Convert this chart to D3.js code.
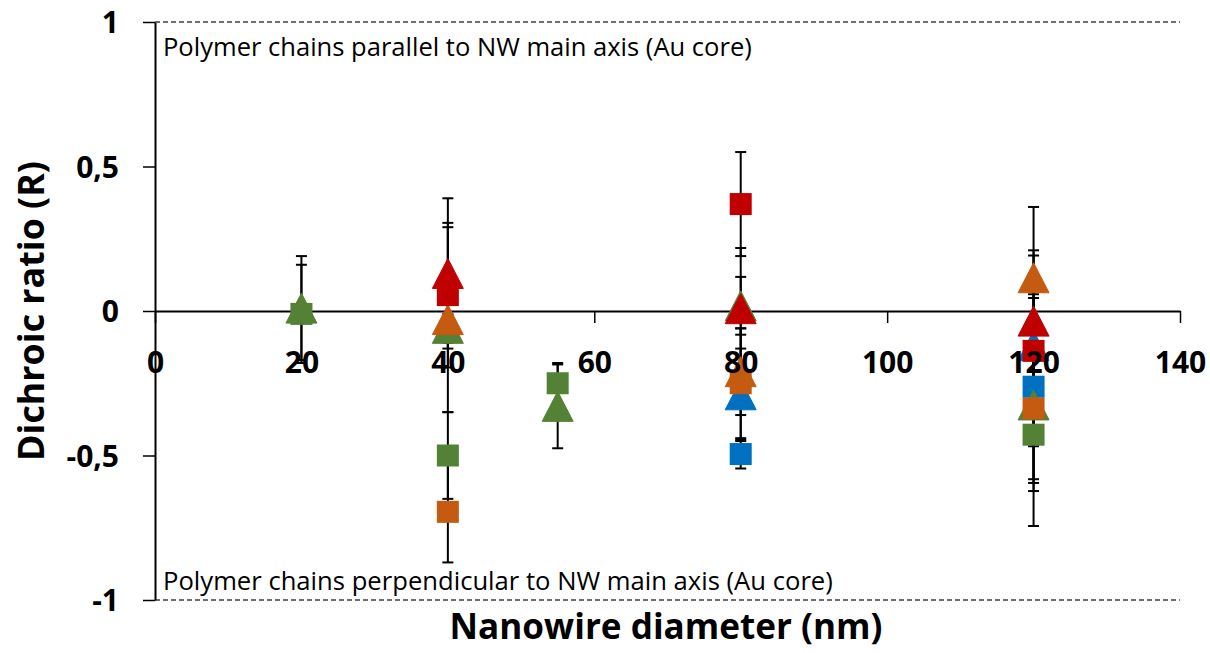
<!DOCTYPE html>
<html><head><meta charset="utf-8">
<script src="https://cdn.jsdelivr.net/npm/d3@7"></script>
<style>body{margin:0;background:#fff}svg{display:block}</style>
</head><body>
<svg id="c" width="1210" height="653"></svg>
<script>
// ---- data ----
const xTicks = [0, 20, 40, 60, 80, 100, 120, 140];
const yTicks = [1, 0.5, 0, -0.5, -1];
const yTickLabels = ["1", "0,5", "0", "-0,5", "-1"];
const xTitle = "Nanowire diameter (nm)";
const yTitle = "Dichroic ratio (R)";
const noteTop = "Polymer chains parallel to NW main axis (Au core)";
const noteBottom = "Polymer chains perpendicular to NW main axis (Au core)";

const blueSquareX = [80, 120],          blueSquareY = [-0.495, -0.262],        blueSquareErr = [0.05, 0.32];
const blueTriX = [80, 120],             blueTriY = [-0.29, -0.12],             blueTriErr = [0.16, 0.165];
const greenSquareX = [20, 40, 55, 120], greenSquareY = [-0.01, -0.50, -0.25, -0.428], greenSquareErr = [0.17, 0.15, 0.07, 0.316];
const greenTriX = [20, 40, 55, 80, 120],greenTriY = [0.01, -0.06, -0.33, 0.018, -0.325], greenTriErr = [0.18, 0.05, 0.145, 0.10, 0.27];
const orangeSquareX = [40, 80, 120],    orangeSquareY = [-0.695, -0.25, -0.337], orangeSquareErr = [0.175, 0.19, 0.286];
const orangeTriX = [40, 80, 120],       orangeTriY = [-0.03, -0.21, 0.115],    orangeTriErr = [0.32, 0.15, 0.245];
const redSquareX = [40, 80, 120],       redSquareY = [0.055, 0.37, -0.138],    redSquareErr = [0.25, 0.18, 0.33];
const redTriX = [40, 80, 120],          redTriY = [0.13, 0.008, -0.035],       redTriErr = [0.26, 0.21, 0.245];

const series = [
  {x: blueSquareX, y: blueSquareY, e: blueSquareErr, color: "#0070C0", shape: "square"},
  {x: blueTriX, y: blueTriY, e: blueTriErr, color: "#0070C0", shape: "triangle"},
  {x: greenSquareX, y: greenSquareY, e: greenSquareErr, color: "#538135", shape: "square"},
  {x: greenTriX, y: greenTriY, e: greenTriErr, color: "#538135", shape: "triangle"},
  {x: orangeSquareX, y: orangeSquareY, e: orangeSquareErr, color: "#C55A11", shape: "square"},
  {x: orangeTriX, y: orangeTriY, e: orangeTriErr, color: "#C55A11", shape: "triangle"},
  {x: redSquareX, y: redSquareY, e: redSquareErr, color: "#C00000", shape: "square"},
  {x: redTriX, y: redTriY, e: redTriErr, color: "#C00000", shape: "triangle"}
];

// ---- chart ----
const svg = d3.select("#c");
const xS = d3.scaleLinear().domain([0, 140]).range([155, 1180]);
const yS = d3.scaleLinear().domain([-1, 1]).range([600, 22]);
const FONT = "'Open Sans', 'Liberation Sans', sans-serif";

function fit(sel, w) {
  const cur = sel.node().getComputedTextLength();
  const fs = parseFloat(sel.attr("font-size"));
  sel.attr("font-size", fs * w / cur);
}

// dashed reference lines
[1, -1].forEach(v => {
  svg.append("line").attr("x1", xS(0)).attr("x2", xS(140))
    .attr("y1", yS(v)).attr("y2", yS(v))
    .attr("stroke", "#404040").attr("stroke-width", 1.3).attr("stroke-dasharray", "5,3");
});

// axis lines and ticks (below marks)
const gy = svg.append("g").attr("transform", `translate(${xS(0)},0)`)
  .call(d3.axisLeft(yS).tickValues(yTicks).tickSize(12).tickSizeOuter(0).tickFormat(""));
const gx = svg.append("g").attr("transform", `translate(0,${yS(0)})`)
  .call(d3.axisBottom(xS).tickValues(xTicks).tickSize(12).tickSizeOuter(0).tickFormat(""));
[gx, gy].forEach(g => {
  g.select(".domain").attr("stroke", "#000").attr("stroke-width", 2);
  g.selectAll(".tick line").attr("stroke", "#000").attr("stroke-width", 1.5);
});

// notes
const t1 = svg.append("text").attr("x", 163).attr("y", 56).attr("font-family", FONT).attr("font-size", 19).text(noteTop);
fit(t1, 589);
const t2 = svg.append("text").attr("x", 163).attr("y", 590).attr("font-family", FONT).attr("font-size", 19).text(noteBottom);
fit(t2, 670);

// error bars
const pts = [];
series.forEach(s => s.x.forEach((xv, i) => pts.push({x: xv, y: s.y[i], e: s.e[i], color: s.color, shape: s.shape})));
const eb = svg.append("g");
pts.forEach(p => {
  const cx = xS(p.x);
  eb.append("line").attr("x1", cx).attr("x2", cx).attr("y1", yS(p.y + p.e)).attr("y2", yS(p.y - p.e))
    .attr("stroke", "#000").attr("stroke-width", 2);
  [p.y + p.e, p.y - p.e].forEach(v => {
    eb.append("line").attr("x1", cx - 5.5).attr("x2", cx + 5.5).attr("y1", yS(v)).attr("y2", yS(v))
      .attr("stroke", "#000").attr("stroke-width", 2);
  });
});

// markers
const mk = svg.append("g");
pts.forEach(p => {
  const cx = xS(p.x), cy = yS(p.y);
  if (p.shape === "square") {
    mk.append("rect").attr("x", cx - 11).attr("y", cy - 11).attr("width", 22).attr("height", 22).attr("fill", p.color);
  } else {
    mk.append("path").attr("d", `M${cx},${cy - 15}L${cx + 15.5},${cy + 15}L${cx - 15.5},${cy + 15}Z`)
      .attr("fill", p.color).attr("stroke", p.color).attr("stroke-width", 1);
  }
});

// tick labels (on top of marks)
const gyl = svg.append("g").attr("transform", `translate(${xS(0)},0)`)
  .call(d3.axisLeft(yS).tickValues(yTicks).tickSize(12).tickPadding(24).tickFormat((d, i) => yTickLabels[i]));
const gxl = svg.append("g").attr("transform", `translate(0,${yS(0)})`)
  .call(d3.axisBottom(xS).tickValues(xTicks).tickSize(12).tickFormat(d3.format("d")));
[gxl, gyl].forEach(g => {
  g.select(".domain").remove();
  g.selectAll(".tick line").remove();
  g.selectAll(".tick text").attr("font-family", FONT).attr("font-weight", "bold").attr("font-size", 30).attr("fill", "#000");
});
gyl.selectAll(".tick text").attr("dy", "0.36em");
gxl.selectAll(".tick text").attr("y", 62).attr("dy", 0);

// axis titles
const xt = svg.append("text").attr("x", 666).attr("y", 639).attr("text-anchor", "middle")
  .attr("font-family", FONT).attr("font-weight", "bold").attr("font-size", 28).text(xTitle);
fit(xt, 433);
const yt = svg.append("text").attr("transform", "translate(44,311) rotate(-90)").attr("text-anchor", "middle")
  .attr("font-family", FONT).attr("font-weight", "bold").attr("font-size", 30).text(yTitle);
fit(yt, 300);
</script>
</body></html>
